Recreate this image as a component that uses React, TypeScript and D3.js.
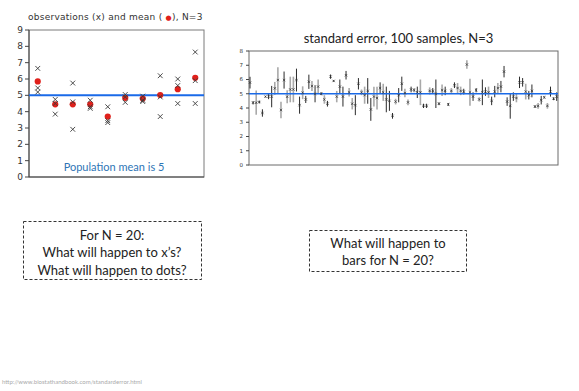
import React from "react";
import * as d3 from "d3";

// ---- Left chart data: three observations per sample and the sample means ----
const groups = ["1", "2", "3", "4", "5", "6", "7", "8", "9", "10"];
const obsA = [6.65, 4.75, 5.75, 4.7, 4.3, 5.05, 4.95, 6.2, 6.0, 7.65];
const obsB = [5.45, 4.5, 4.6, 4.3, 3.45, 4.9, 4.7, 4.9, 5.6, 5.9];
const obsC = [5.2, 3.85, 2.92, 4.2, 3.33, 4.57, 4.62, 3.7, 4.5, 4.5];
const groupMeans = [5.85, 4.45, 4.45, 4.45, 3.7, 4.85, 4.8, 5.02, 5.38, 6.07];
const leftTicks = [0, 1, 2, 3, 4, 5, 6, 7, 8, 9];

// ---- Right chart data: 100 sample means with standard errors ----
const sampleMeans = [
  5.78, 4.37, 4.37, 4.42, 3.65, 4.8, 4.82, 4.8, 5.38, 5.96,
  3.86, 5.96, 4.79, 5.3, 5.3, 5.96, 4.2, 5.07, 4.6, 5.84,
  5.54, 5.0, 5.5, 5.0, 4.6, 4.3, 6.2, 5.9, 4.8, 5.5,
  4.8, 6.3, 5.1, 4.3, 4.2, 5.7, 5.1, 4.9, 5.2, 3.9,
  4.8, 4.7, 5.4, 5.1, 4.6, 4.5, 3.45, 4.45, 4.9, 5.7,
  5.05, 4.4, 5.3, 5.25, 5.1, 5.1, 4.15, 4.15, 5.2, 5.2,
  5.0, 4.3, 5.25, 5.2, 4.25, 5.2, 5.6, 5.4, 5.2, 5.15,
  7.05, 5.1, 4.8, 5.25, 4.6, 5.1, 5.15, 5.1, 4.5, 5.15,
  5.4, 5.5, 6.55, 4.45, 4.15, 4.8, 4.7, 5.8, 5.8, 5.15,
  4.9, 5.2, 4.1, 4.15, 4.55, 4.75, 4.15, 5.15, 4.65, 4.8,
];
const standardErrors = [
  0.41, 0.12, 0.85, 0.1, 0.26, 0.05, 0.2, 0.75, 0.45, 0.9,
  0.58, 0.6, 0.45, 0.9, 0.9, 0.8, 0.6, 0.45, 0.25, 0.5,
  0.35, 0.6, 0.5, 0.1, 0.3, 0.2, 0.15, 0.05, 0.4, 0.5,
  0.7, 0.3, 0.3, 0.4, 0.7, 0.4, 0.2, 0.6, 0.9, 0.8,
  0.7, 0.8, 0.4, 0.6, 0.9, 0.7, 0.2, 0.2, 0.5, 0.5,
  0.3, 0.2, 0.2, 0.15, 0.4, 0.9, 0.15, 0.15, 0.25, 0.2,
  1.0, 0.1, 0.4, 0.3, 0.1, 0.2, 0.2, 0.35, 0.3, 0.2,
  0.3, 0.95, 0.3, 0.15, 0.15, 0.9, 0.3, 0.4, 0.3, 0.4,
  0.35, 0.4, 0.4, 0.3, 0.9, 0.3, 0.3, 0.4, 0.3, 0.55,
  0.3, 0.45, 0.1, 0.2, 0.3, 0.1, 0.2, 0.35, 0.1, 0.3,
];
const barShade = [
  "d", "d", "g", "d", "d", "d", "d", "d", "g", "g",
  "g", "d", "g", "g", "g", "d", "d", "g", "d", "d",
  "g", "d", "g", "d", "g", "d", "d", "d", "g", "d",
  "d", "d", "g", "g", "d", "d", "g", "g", "d", "d",
  "g", "g", "d", "g", "d", "d", "d", "g", "d", "d",
  "g", "g", "d", "g", "d", "g", "d", "d", "g", "d",
  "d", "d", "g", "d", "d", "g", "d", "g", "g", "d",
  "g", "g", "d", "d", "g", "d", "d", "g", "d", "d",
  "g", "d", "d", "d", "d", "d", "g", "d", "d", "g",
  "d", "d", "d", "g", "d", "g", "g", "d", "d", "d",
];
const rightTicks = [0, 1, 2, 3, 4, 5, 6, 7, 8];
const populationMean = 5;

const BLUE = "#1a6ae8";
const RED = "#e0201b";

function Cross({ x, y, r, stroke, sw }: { x: number; y: number; r: number; stroke: string; sw: number }) {
  return (
    <g stroke={stroke} strokeWidth={sw}>
      <line x1={x - r} y1={y - r} x2={x + r} y2={y + r} />
      <line x1={x - r} y1={y + r} x2={x + r} y2={y - r} />
    </g>
  );
}

export default function App() {
  // left chart geometry
  const L = { x0: 29, x1: 204, y0: 30, y1: 177 };
  const lx = d3.scaleBand<string>().domain(groups).range([L.x0, L.x1]);
  const ly = d3.scaleLinear().domain([0, 9]).range([L.y1, L.y0]);

  // right chart geometry
  const R = { x0: 249, x1: 558, y0: 51, y1: 165 };
  const idx = d3.range(1, sampleMeans.length + 1);
  const rx = d3.scaleLinear().domain([1, 100]).range([250, 556.7]);
  const ry = d3.scaleLinear().domain([0, 8]).range([R.y1, R.y0]);

  const sans = "Lato, 'Open Sans', sans-serif";

  return (
    <svg width={579} height={391} style={{ position: "absolute", left: 0, top: 0, background: "#fff" }}>
      {/* ---------- Left chart ---------- */}
      <text x={28} y={20} fontFamily="'DejaVu Sans', sans-serif" fontSize={9} letterSpacing={0.25} fill="#333">
        observations (x) and mean ( <tspan fill={RED} fontSize={7}>●</tspan>), N=3
      </text>
      <rect x={L.x0} y={L.y0} width={L.x1 - L.x0} height={L.y1 - L.y0} fill="none" stroke="#7a7a7a" strokeWidth={1} />
      <line x1={L.x0} x2={L.x0} y1={L.y0} y2={L.y1} stroke="#444" />
      <line x1={L.x0} x2={L.x1} y1={L.y1} y2={L.y1} stroke="#444" />
      {leftTicks.map((t) => (
        <g key={t}>
          <line x1={L.x0 - 4} x2={L.x0} y1={ly(t)} y2={ly(t)} stroke="#444" />
          <text x={L.x0 - 6} y={ly(t)} dy="0.35em" textAnchor="end" fontFamily="'DejaVu Sans', sans-serif" fontSize={9} fill="#333">
            {t}
          </text>
        </g>
      ))}
      <line x1={L.x0} x2={L.x1} y1={ly(populationMean)} y2={ly(populationMean)} stroke={BLUE} strokeWidth={2} />
      {groups.map((g, i) => {
        const cx = (lx(g) as number) + lx.bandwidth() / 2;
        return (
          <g key={g}>
            <circle cx={cx} cy={ly(groupMeans[i])} r={3.1} fill={RED} />
            {[obsA[i], obsB[i], obsC[i]].map((v, k) => (
              <Cross key={k} x={cx} y={ly(v)} r={2.4} stroke="#3a3a3a" sw={0.9} />
            ))}
          </g>
        );
      })}
      <text x={114} y={171} textAnchor="middle" fontFamily={sans} fontSize={11} fill="#2e75b6">
        Population mean is 5
      </text>

      {/* ---------- Right chart ---------- */}
      <text x={(R.x0 + R.x1) / 2 - 5} y={43} textAnchor="middle" fontFamily={sans} fontSize={13} fill="#222">
        standard error, 100 samples, N=3
      </text>
      <rect x={R.x0} y={R.y0} width={R.x1 - R.x0} height={R.y1 - R.y0} fill="none" stroke="#6a6a6a" strokeWidth={1} />
      {rightTicks.map((t) => (
        <g key={t}>
          <line x1={R.x0 - 3} x2={R.x0} y1={ry(t)} y2={ry(t)} stroke="#444" />
          <text x={R.x0 - 6} y={ry(t)} dy="0.35em" textAnchor="end" fontFamily="'DejaVu Sans', sans-serif" fontSize={5.5} fill="#333">
            {t}
          </text>
        </g>
      ))}
      {idx.map((n, i) => {
        const x = rx(n);
        const grey = barShade[i] === "g";
        return (
          <line
            key={"b" + n}
            x1={x}
            x2={x}
            y1={ry(sampleMeans[i] + standardErrors[i])}
            y2={ry(sampleMeans[i] - standardErrors[i])}
            stroke={grey ? "#a9a9a9" : "#2a2a2a"}
            strokeWidth={grey ? 1.6 : 1}
          />
        );
      })}
      <line x1={R.x0} x2={R.x1} y1={ry(populationMean)} y2={ry(populationMean)} stroke={BLUE} strokeWidth={1.6} />
      {idx.map((n, i) => (
        <Cross key={"m" + n} x={rx(n)} y={ry(sampleMeans[i])} r={1.2} stroke="#333" sw={0.7} />
      ))}

      {/* ---------- Question boxes ---------- */}
      <rect x={23.5} y={221.5} width={178} height={58} fill="none" stroke="#333" strokeWidth={1} strokeDasharray="3,2" />
      {["For N = 20:", "What will happen to x\u2019s?", "What will happen to dots?"].map((s, k) => (
        <text key={s} x={112} y={235 + k * 17.5} dy="0.35em" textAnchor="middle" fontFamily={sans} fontSize={13} fill="#222">
          {s}
        </text>
      ))}
      <rect x={309.5} y={230.5} width={157} height={41} fill="none" stroke="#333" strokeWidth={1} strokeDasharray="3,2" />
      {["What will happen to", "bars for N = 20?"].map((s, k) => (
        <text key={s} x={388} y={243.5 + k * 16.7} dy="0.35em" textAnchor="middle" fontFamily={sans} fontSize={13} fill="#222">
          {s}
        </text>
      ))}

      {/* ---------- Footer ---------- */}
      <text x={2} y={384} fontFamily={sans} fontSize={6} fill="#aaa">
        http://www.biostathandbook.com/standarderror.html
      </text>
    </svg>
  );
}
